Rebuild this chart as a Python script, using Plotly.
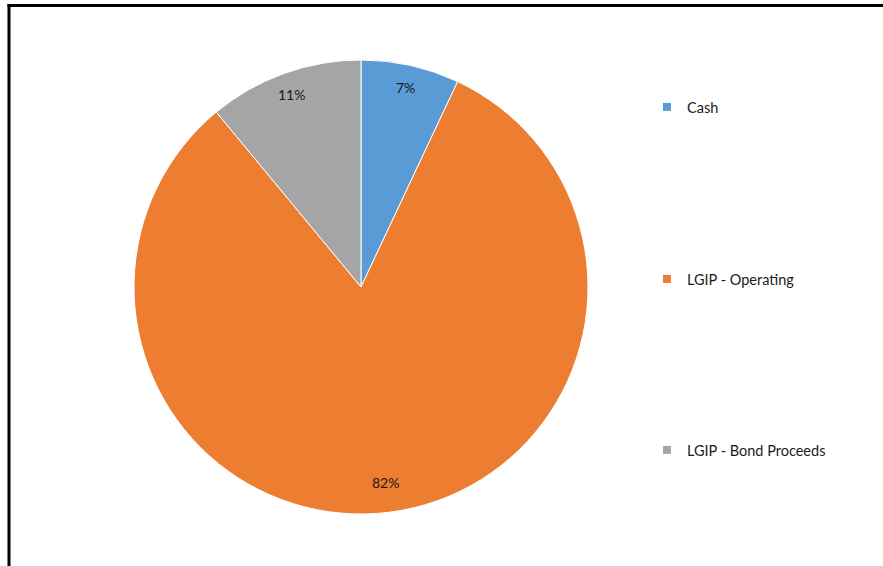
import math
import plotly.graph_objects as go

labels = ["Cash", "LGIP - Operating", "LGIP - Bond Proceeds"]
values = [7, 82, 11]
colors = ["#5B9BD5", "#ED7D31", "#A5A5A5"]

W, H = 883, 566
FONT = "Lato"
TXT = "#1a1a1a"

# pie geometry (pixels, top-left origin)
CX, CY, R = 361, 287, 227

fig = go.Figure()
fig.add_trace(go.Pie(
    labels=labels, values=values, sort=False, direction="clockwise", rotation=0,
    marker=dict(colors=colors, line=dict(color="white", width=1)),
    textinfo="none",
    domain=dict(x=[(CX - R) / W, (CX + R) / W], y=[(H - CY - R) / H, (H - CY + R) / H]),
    showlegend=False, hoverinfo="label+percent",
))

# percentage labels placed near the outer edge of each slice (computed from the values)
total = sum(values)
cum = 0
annotations = []
for v in values:
    mid = (cum + v / 2) / total * 2 * math.pi
    cum += v
    rr = R * (0.9 if v / total < 0.5 else 0.87)
    px = CX + rr * math.sin(mid)
    py = CY - rr * math.cos(mid)
    annotations.append(dict(
        x=px / W, y=1 - py / H, xref="paper", yref="paper",
        text=f"{round(v / total * 100)}%", showarrow=False,
        font=dict(family=FONT, size=14, color=TXT),
        xanchor="center", yanchor="middle",
    ))

legend_y = [107, 279, 450]
for i, (lab, col) in enumerate(zip(labels, colors)):
    lname = "legend" if i == 0 else f"legend{i + 1}"
    fig.add_trace(go.Scatter(
        x=[None], y=[None], mode="markers", name=lab,
        marker=dict(symbol="square", size=8, color=col),
        legend=lname, showlegend=True,
    ))
    fig.update_layout(**{lname: dict(
        x=647 / W, y=1 - legend_y[i] / H, xanchor="left", yanchor="middle",
        font=dict(family=FONT, size=14.5, color=TXT),
        bgcolor="rgba(0,0,0,0)", itemclick=False, itemdoubleclick=False,
    )})

fig.update_layout(
    width=W, height=H,
    margin=dict(l=0, r=0, t=0, b=0),
    paper_bgcolor="white", plot_bgcolor="white",
    xaxis=dict(visible=False), yaxis=dict(visible=False),
    annotations=annotations,
    shapes=[
        dict(type="line", xref="paper", yref="paper", x0=9 / W, x1=9 / W, y0=0, y1=1 - 4 / H,
             line=dict(color="black", width=3)),
        dict(type="line", xref="paper", yref="paper", x0=7.5 / W, x1=1, y0=1 - 5.5 / H, y1=1 - 5.5 / H,
             line=dict(color="black", width=3)),
    ],
)

fig.write_html("out.html", config={"displayModeBar": False},
               post_script="document.body.style.margin='0px';")
